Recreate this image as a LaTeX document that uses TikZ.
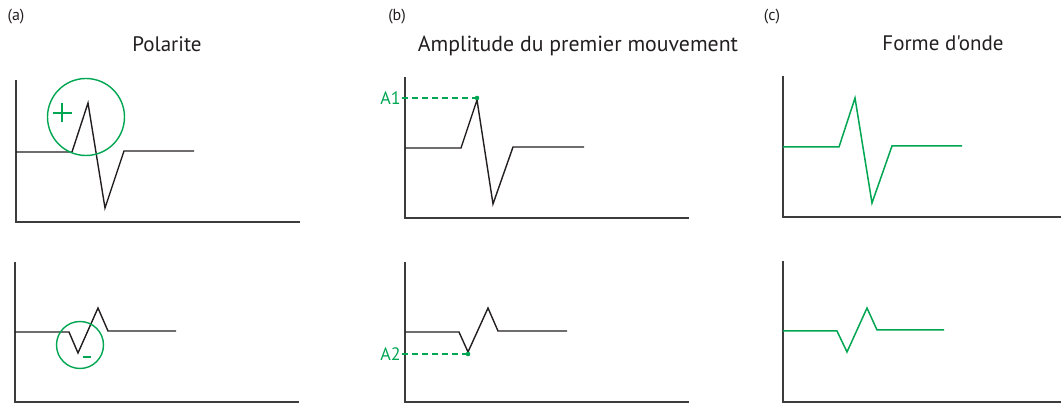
\documentclass[tikz,border=0pt]{standalone}
\usepackage{fontspec}
\setmainfont{PT Sans}[Ligatures=TeXOff]
\definecolor{wgreen}{RGB}{0,166,81}
\definecolor{axisc}{RGB}{60,60,60}
\definecolor{wave}{RGB}{35,31,32}
\begin{document}
\begin{tikzpicture}[x=1pt,y=-1pt,
  axis/.style={draw=axisc,line width=1.5pt},
  wv/.style={draw=wave,line width=1.4pt,line join=miter},
  gw/.style={draw=wgreen,line width=1.5pt,line join=miter},
  gc/.style={draw=wgreen,line width=1.4pt},
  ttl/.style={font=\fontsize{21}{24}\selectfont,text=wave},
  lab/.style={font=\fontsize{16}{18}\selectfont,text=wave},
  al/.style={font=\fontsize{18}{20}\selectfont,text=wgreen,inner sep=0pt},
  gd/.style={draw=wgreen,line width=1.3pt,dash pattern=on 6pt off 4pt}]
\useasboundingbox (0,0) rectangle (1061,403);
% labels
\node[lab] (la) at (16,17) {(a)};
\node[lab] (lb) at (397,17) {(b)};
\node[lab] (lc) at (772,17) {(c)};
\node[ttl] (ta) at (167,44) {Polarite};
\node[ttl,font=\fontsize{21.8}{24}\selectfont] (tb) at (578,46) {Amplitude du premier mouvement};
\node[ttl] (tc) at (943,43) {Forme d'onde};
% axes
\coordinate (a1t) at (16,80); \coordinate (a1o) at (16,222); \coordinate (a1r) at (300,222);
\coordinate (a2t) at (15,262); \coordinate (a2o) at (15,402); \coordinate (a2r) at (299,402);
\coordinate (b1t) at (405,77); \coordinate (b1o) at (405,218); \coordinate (b1r) at (689,218);
\coordinate (b2t) at (405,262); \coordinate (b2o) at (405,402); \coordinate (b2r) at (689,402);
\coordinate (c1t) at (783,76); \coordinate (c1o) at (783,217); \coordinate (c1r) at (1061,217);
\coordinate (c2t) at (783,261); \coordinate (c2o) at (783,402); \coordinate (c2r) at (1061,402);
\foreach \p in {a1,a2,b1,b2,c1,c2}{\draw[axis] (\p t) -- (\p o) -- (\p r);}
% panel a top
\draw[wv] (16,152) -- (72,152) -- (88,103) -- (105,208) -- (124,151) -- (194,151);
\node[gc,circle,minimum size=77pt,inner sep=0pt] (ca) at (86,117) {};
\coordinate (plus) at (62,113);
\draw[wgreen,line width=2pt] ([xshift=-9.5pt]plus) -- ([xshift=9.5pt]plus);
\draw[wgreen,line width=2pt] ([yshift=-9.5pt]plus) -- ([yshift=9.5pt]plus);
% panel a bottom
\draw[wv] (15,332) -- (69,332) -- (78,353) -- (98,308) -- (108,331) -- (176,331);
\node[gc,circle,minimum size=47pt,inner sep=0pt] (cb) at (80,345) {};
\coordinate (minus) at (87,357);
\draw[wgreen,line width=2.3pt] ([xshift=-4.2pt]minus) -- ([xshift=4.2pt]minus);
% panel b top
\draw[wv] (405,148) -- (461,148) -- (477,100) -- (493,204) -- (513,147) -- (584,147);
\coordinate (d1) at (477,98);
\coordinate (s1) at (402,98);
\draw[gd] (s1) -- (d1);
\fill[wgreen] (d1) circle (2.3pt);
\node[al,anchor=east] (A1) at (401,98) {A1};
% panel b bottom
\draw[wv] (405,332) -- (459,332) -- (468,352) -- (488,308) -- (498,331) -- (567,331);
\coordinate (d2) at (468,354);
\coordinate (s2) at (402,354);
\draw[gd] (s2) -- (d2);
\fill[wgreen] (d2) circle (2.3pt);
\node[al,anchor=east] (A2) at (401,354) {A2};
% panel c
\draw[gw] (783,147) -- (839,147) -- (855,98) -- (872,203) -- (892,146) -- (962,146);
\draw[gw] (783,331) -- (837,331) -- (847,352) -- (867,308) -- (877,330) -- (944,330);
\end{tikzpicture}
\end{document}
